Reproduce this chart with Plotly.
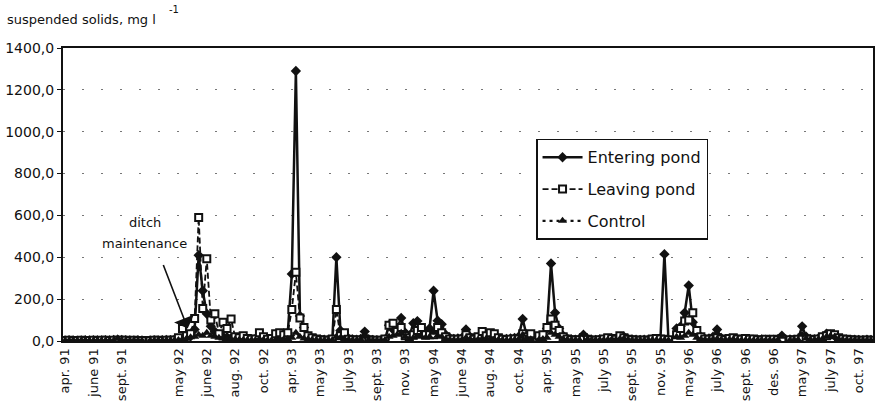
import plotly.graph_objects as go

# Sampling dates shown on the category axis (one label every 7 samples)
tick_labels = ["apr. 91", "june 91", "sept. 91", "", "may 92", "june 92", "aug. 92",
               "oct. 92", "apr. 93", "may 93", "july 93", "sept. 93", "nov. 93",
               "may 94", "june 94", "aug. 94", "oct. 94", "apr. 95", "may 95",
               "july 95", "sept. 95", "nov. 95", "may 96", "july 96", "sept. 96",
               "des. 96", "may 97", "july 97", "oct. 97"]
label_step = 7

# Suspended solids, mg/l (None = no sample)
entering = [
    3, 4, 3, 2, 3, 4, 3,
    4, 3, 3, 4, 3, 5, 6,
    5, 4, 3, 3, 4, 3, None,
    3, 4, 3, 4, 5, 4, 6,
    8, 12, 18, 22, 55, 410, 240,
    130, 70, 45, 30, 22, 18, 14,
    12, 10, 8, 7, 6, 8, 30,
    10, 6, 5, 8, 12, 18, 40,
    320, 1290, 120, 65, 22, 12, 10,
    8, 6, 5, 8, 400, 50, 20,
    12, 8, 6, 10, 45, 8, 5,
    4, 3, 8, 75, 55, 60, 110,
    40, 20, 85, 95, 60, 40, 60,
    240, 97, 80, 30, 15, 10, 12,
    15, 55, 20, 10, 12, 15, 20,
    18, 12, 10, 8, 10, 12, 15,
    20, 105, 25, 15, None, 15, 25,
    60, 370, 135, 60, 25, 12, 8,
    6, 8, 30, 10, 6, 5, 8,
    8, 10, 12, 10, 15, 20, 10,
    8, 6, 5, 6, 5, 8, 5,
    6, 415, 5, None, 60, 70, 135,
    265, 90, 40, 15, 10, 12, 20,
    55, 15, 8, 6, 10, 8, 6,
    5, 6, 4, 5, 8, 6, 5,
    6, 8, 25, None, 8, 6, 10,
    70, 20, 10, 8, 12, 15, 35,
    30, 25, 12, 8, 6, 5, 6,
    5, 4, 6, 5,
]
leaving = [
    2, 3, 2, 2, 3, 2, 2,
    3, 2, 3, 3, 2, 4, 3,
    3, 3, 2, 3, 2, 2, None,
    2, 3, 3, 2, 4, 3, 5,
    15, 60, 25, 35, 107, 590, 155,
    393, 100, 130, 35, 90, 60, 105,
    20, 15, 25, 12, 8, 10, 40,
    20, 8, 12, 35, 40, 30, 40,
    150, 328, 110, 65, 25, 15, 10,
    6, 5, 4, 10, 150, 25, 40,
    8, 6, 5, 5, 10, 6, 4,
    3, 4, 10, 75, 85, 45, 65,
    25, 15, 30, 50, 65, 30, 30,
    30, 65, 40, 20, 10, 8, 8,
    10, 30, 15, 8, 20, 45, 25,
    40, 35, 15, 8, 6, 8, 10,
    10, 35, 20, 35, None, 25, 30,
    65, 105, 75, 50, 20, 10, 6,
    5, 6, 15, 8, 5, 4, 6,
    10, 15, 12, 8, 25, 15, 8,
    6, 5, 4, 5, 4, 10, 12,
    10, 8, 6, None, 30, 60, 95,
    100, 135, 50, 20, 10, 8, 10,
    15, 10, 6, 12, 15, 10, 8,
    12, 8, 10, 6, 5, 8, 6,
    8, 6, 10, None, 6, 5, 8,
    15, 10, 8, 6, 10, 20, 25,
    35, 30, 15, 10, 8, 6, 5,
    4, 3, 5, 4,
]
control = [
    2, 2, 3, 2, 2, 3, 2,
    2, 3, 2, 2, 3, 2, 12,
    3, 2, 2, 3, 2, 2, None,
    2, 2, 3, 2, 3, 3, 4,
    5, 8, 12, 18, 20, 30, 25,
    40, 25, 20, 15, 12, 10, 8,
    8, 6, 5, 5, 4, 5, 10,
    6, 4, 4, 5, 6, 8, 10,
    15, 40, 20, 12, 8, 6, 5,
    4, 4, 3, 5, 20, 15, 10,
    6, 5, 4, 8, 20, 5, 3,
    3, 3, 5, 20, 25, 30, 40,
    20, 10, 15, 25, 20, 15, 20,
    40, 25, 20, 10, 6, 5, 5,
    6, 15, 8, 5, 8, 10, 12,
    10, 8, 6, 5, 4, 5, 6,
    8, 30, 12, 8, None, 6, 10,
    15, 40, 30, 20, 10, 6, 5,
    4, 5, 30, 8, 5, 4, 5,
    5, 6, 8, 6, 10, 12, 6,
    4, 4, 3, 4, 3, 5, 4,
    4, 5, 4, None, 20, 15, 25,
    40, 30, 15, 8, 6, 5, 8,
    10, 6, 5, 6, 8, 5, 4,
    4, 5, 3, 4, 5, 4, 4,
    4, 5, 20, None, 4, 5, 6,
    30, 12, 6, 5, 8, 10, 20,
    25, 20, 10, 6, 5, 4, 5,
    3, 3, 4, 3,
]

samples = list(range(len(entering)))
tick_pos = [k * label_step for k, t in enumerate(tick_labels) if t]
tick_txt = [t for t in tick_labels if t]

FONT = "DejaVu Sans"
INK = "#111111"

fig = go.Figure()
fig.add_trace(go.Scatter(
    x=samples, y=entering, name="Entering pond", mode="lines+markers",
    line=dict(color=INK, width=2.5), connectgaps=False,
    marker=dict(symbol="diamond", size=8, color=INK),
    legendgroup="a"))
fig.add_trace(go.Scatter(
    x=samples, y=leaving, name="Leaving pond", mode="lines+markers",
    line=dict(color=INK, width=1.8, dash="6px,3px"), connectgaps=False,
    marker=dict(symbol="square", size=7, color="white",
                line=dict(color=INK, width=2)),
    legendgroup="b"))
fig.add_trace(go.Scatter(
    x=samples, y=control, name="Control", mode="lines+markers",
    line=dict(color=INK, width=2.2, dash="3px,4px"), connectgaps=False,
    marker=dict(symbol="triangle-up", size=8, color=INK),
    legendgroup="c"))

annotations = [
    dict(text="suspended solids, mg l", xref="paper", yref="paper",
         x=-0.0714, y=1.096, xanchor="left", yanchor="middle", showarrow=False,
         font=dict(family=FONT, size=13, color=INK)),
    dict(text="-1", xref="paper", yref="paper",
         x=0.128, y=1.13, xanchor="left", yanchor="middle", showarrow=False,
         font=dict(family=FONT, size=10, color=INK)),
    dict(text="ditch", x=19.7, y=567, xref="x", yref="y", showarrow=False,
         font=dict(family=FONT, size=13, color=INK)),
    dict(text="maintenance", x=19.7, y=466, xref="x", yref="y", showarrow=False,
         font=dict(family=FONT, size=13, color=INK)),
    dict(text="", x=30.3, y=60, xref="x", yref="y", showarrow=True,
         ax=-25, ay=-65, arrowhead=1, arrowsize=2.2, arrowwidth=1.6,
         arrowcolor=INK),
]

fig.update_layout(
    width=878, height=409,
    margin=dict(l=63, r=3, t=48, b=68),
    paper_bgcolor="white", plot_bgcolor="white",
    separators=",.",
    font=dict(family=FONT, size=13, color=INK),
    showlegend=True,
    legend=dict(x=0.584, y=0.69, xanchor="left", yanchor="top",
                bgcolor="white", bordercolor=INK, borderwidth=1.5,
                font=dict(family=FONT, size=16, color=INK),
                tracegroupgap=8, itemwidth=40),
    annotations=annotations,
)
fig.update_xaxes(
    range=[-0.5, len(samples) - 0.5], tickvals=tick_pos, ticktext=tick_txt,
    tickangle=-90, tickfont=dict(family=FONT, size=13, color=INK),
    showline=True, linecolor=INK, linewidth=2, mirror=True,
    showgrid=False, zeroline=False, ticks="",
)
fig.update_yaxes(
    range=[0, 1400], dtick=200, tickformat=".1f",
    tickfont=dict(family=FONT, size=14, color=INK),
    showline=True, linecolor=INK, linewidth=2, mirror=True,
    ticks="outside", ticklen=4, tickcolor=INK,
    showgrid=True, gridcolor="#777777", gridwidth=1, griddash="2px,17px",
    zeroline=False,
)

fig.write_html("out.html")
